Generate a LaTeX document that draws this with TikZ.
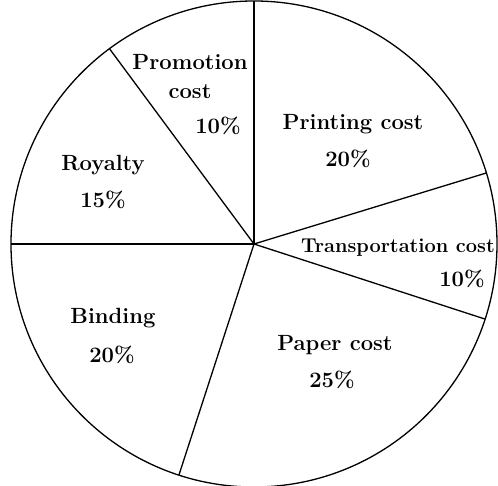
\documentclass[tikz,border=0pt]{standalone}
\usepackage{amsmath,amssymb}
\usepackage{tikz}

\begin{document}
\begin{tikzpicture}[x=1pt,y=1pt]
\tikzstyle{every node}+=[inner sep=0pt]
\tikzstyle{share}=[font=\fontsize{22}{29}\selectfont\bfseries, align=center]
\tikzstyle{smallshare}=[font=\fontsize{20}{29}\selectfont\bfseries, align=center]
\useasboundingbox (-254,-242) rectangle (244,244);
\coordinate (c) at (0,0);
\draw [black, line width=1.3pt] (c) circle (243);
% spokes between the sectors
\foreach \ang/\nm in {90/top, 17/pt, -18/tp, -108/pb, 180/br, 126.5/rp}
  \coordinate (\nm) at (\ang:243);
\foreach \nm in {top, pt, tp, pb, br, rp}
  \draw [black, line width=1.3pt] (c) -- (\nm);
% labels
\node [share] (promo) at (-64,167) {Promotion\\cost};
\node [share] (promop) at (-36,118) {10\%};
\node [share] (print) at (99,120) {Printing cost};
\node [share] (printp) at (94,85) {20\%};
\node [share] (roy) at (-151,79) {Royalty};
\node [share] (royp) at (-151,44) {15\%};
\node [smallshare] (trans) at (144,-4) {Transportation cost};
\node [share] (transp) at (208,-35) {10\%};
\node [share] (bind) at (-141,-74) {Binding};
\node [share] (bindp) at (-142,-111) {20\%};
\node [share] (paper) at (81,-101) {Paper cost};
\node [share] (paperp) at (78,-136) {25\%};
\end{tikzpicture}
\end{document}
